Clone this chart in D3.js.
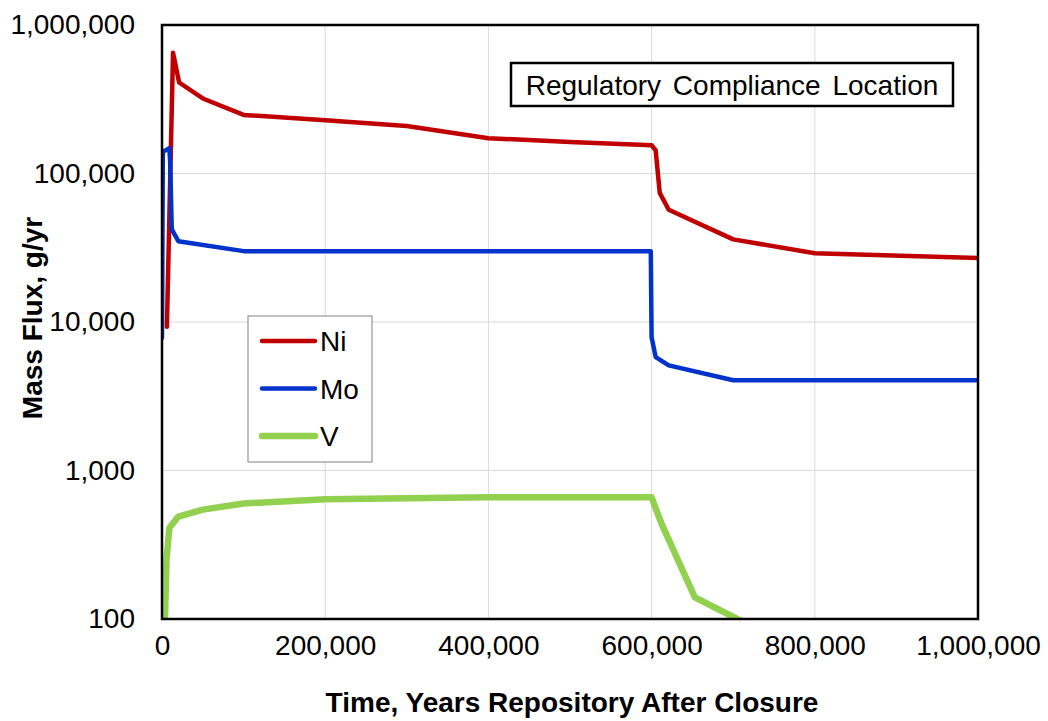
<!DOCTYPE html>
<html>
<head>
<meta charset="utf-8">
<script src="https://cdn.jsdelivr.net/npm/d3@7"></script>
<style>
  html, body { margin: 0; padding: 0; background: #fff; }
  svg { display: block; }
  text { font-family: "Liberation Sans", Arial, sans-serif; fill: #000; }
</style>
</head>
<body>
<svg id="chart" width="1048" height="721"></svg>
<script>
// ---- data ----
const seriesNames = ["Ni", "Mo", "V"];
const niData = [[6000, 9300], [13500, 650000], [21000, 410000], [50000, 320000], [100000, 248000],
  [200000, 228000], [300000, 209000], [400000, 173000], [500000, 163000], [600000, 155000],
  [605000, 143000], [610000, 74000], [621000, 57000], [700000, 36000], [800000, 29000], [1000000, 27000]];
const moData = [[0, 7800], [1000, 140000], [9000, 148000], [10000, 120000], [12000, 42000],
  [20000, 35000], [100000, 30000], [300000, 30000], [599000, 30000], [600000, 7900],
  [605000, 5800], [621000, 5100], [700000, 4050], [800000, 4050], [1000000, 4050]];
const vData = [[3500, 95], [5500, 250], [9000, 410], [20000, 490], [50000, 545], [100000, 600],
  [200000, 640], [400000, 660], [600000, 660], [612000, 440], [653000, 140], [705000, 100], [740000, 80]];
const xTicks = [0, 200000, 400000, 600000, 800000, 1000000];
const yTicks = [100, 1000, 10000, 100000, 1000000];
const annotation = "Regulatory Compliance Location";
const xTitle = "Time, Years Repository After Closure";
const yTitle = "Mass Flux, g/yr";

// ---- layout ----
const svg = d3.select("#chart");
const L = 162, R = 978, T = 25, B = 619;
const x = d3.scaleLinear().domain([0, 1000000]).range([L, R]);
const y = d3.scaleLog().domain([100, 1000000]).range([B, T]);
const fmt = d3.format(",");

const series = [
  { name: "Ni", data: niData, color: "#c00000", width: 4.5 },
  { name: "Mo", data: moData, color: "#0033cc", width: 4.5 },
  { name: "V", data: vData, color: "#92d050", width: 6.5 }
];

// gridlines
svg.append("g").selectAll("line.h").data(yTicks).join("line")
  .attr("x1", L).attr("x2", R).attr("y1", d => y(d)).attr("y2", d => y(d))
  .attr("stroke", "#d9d9d9").attr("stroke-width", 1);
svg.append("g").selectAll("line.v").data(xTicks).join("line")
  .attr("y1", T).attr("y2", B).attr("x1", d => x(d)).attr("x2", d => x(d))
  .attr("stroke", "#d9d9d9").attr("stroke-width", 1);

// clip
svg.append("clipPath").attr("id", "clip").append("rect")
  .attr("x", L).attr("y", T).attr("width", R - L).attr("height", B - T);

const line = d3.line().x(d => x(d[0])).y(d => y(d[1]));
const lines = svg.append("g").attr("clip-path", "url(#clip)");
series.forEach(s => {
  lines.append("path").datum(s.data).attr("d", line)
    .attr("fill", "none").attr("stroke", s.color).attr("stroke-width", s.width)
    .attr("stroke-linejoin", "round").attr("stroke-linecap", "round");
});

// frame
svg.append("rect").attr("x", L).attr("y", T).attr("width", R - L).attr("height", B - T)
  .attr("fill", "none").attr("stroke", "#000").attr("stroke-width", 2.5);

// axes
const xAxis = svg.append("g").attr("transform", `translate(0,${B})`)
  .call(d3.axisBottom(x).tickValues(xTicks).tickFormat(fmt).tickSize(0).tickPadding(16));
xAxis.select(".domain").remove();
xAxis.selectAll("text").style("font-size", "28px").attr("fill", "#000");

const yAxis = svg.append("g").attr("transform", `translate(${L},0)`)
  .call(d3.axisLeft(y).tickValues(yTicks).tickFormat(fmt).tickSize(0).tickPadding(27));
yAxis.select(".domain").remove();
yAxis.selectAll("text").style("font-size", "28px").attr("fill", "#000");

// titles
svg.append("text").attr("x", 572).attr("y", 712).attr("text-anchor", "middle")
  .style("font-size", "28px").style("font-weight", "bold").text(xTitle);
svg.append("text").attr("transform", "translate(42,318) rotate(-90)").attr("text-anchor", "middle")
  .style("font-size", "28px").style("font-weight", "bold").text(yTitle);

// annotation box
svg.append("rect").attr("x", 511).attr("y", 63).attr("width", 442).attr("height", 43)
  .attr("fill", "#fff").attr("stroke", "#000").attr("stroke-width", 2.5);
svg.append("text").attr("x", 732).attr("y", 95).attr("text-anchor", "middle")
  .style("font-size", "28px").style("word-spacing", "4px").text(annotation);

// legend
const lg = svg.append("g");
lg.append("rect").attr("x", 248).attr("y", 316).attr("width", 124).attr("height", 146)
  .attr("fill", "#fff").attr("stroke", "#808080").attr("stroke-width", 1);
series.forEach((s, i) => {
  const ly = 341 + i * 47.5;
  lg.append("line").attr("x1", 262).attr("x2", 315).attr("y1", ly).attr("y2", ly)
    .attr("stroke", s.color).attr("stroke-width", s.width).attr("stroke-linecap", "round");
  lg.append("text").attr("x", 320).attr("y", ly + 10).style("font-size", "28px").text(seriesNames[i]);
});
</script>
</body>
</html>
